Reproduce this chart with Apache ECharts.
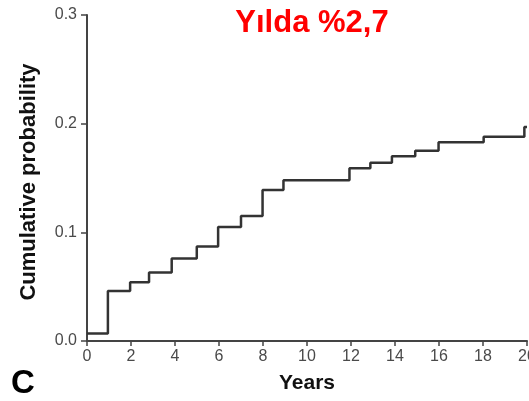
<!DOCTYPE html>
<html>
<head>
<meta charset="utf-8">
<style>
  html, body { margin: 0; padding: 0; background: #fff; }
  #chart { width: 529px; height: 401px; }
</style>
<script src="https://cdn.jsdelivr.net/npm/echarts@6/dist/echarts.min.js"></script>
</head>
<body>
<div id="chart"></div>
<script>
// Step start times (years) and cumulative probability held from each time
const stepYears = [0, 0.95, 1.96, 2.82, 3.85, 4.99, 5.96, 7.0, 7.98, 8.93, 11.93, 12.88, 13.86, 14.92, 15.98, 18.03, 19.88, 20];
const cumProb   = [0.007, 0.046, 0.054, 0.063, 0.076, 0.087, 0.105, 0.115, 0.139, 0.148, 0.159, 0.164, 0.170, 0.175, 0.183, 0.188, 0.197, 0.197];
const xTicks = [0, 2, 4, 6, 8, 10, 12, 14, 16, 18, 20];
const yTicks = [0.0, 0.1, 0.2, 0.3];
const titleText = 'Yılda %2,7';
const xName = 'Years';
const yName = 'Cumulative probability';
const panelLabel = 'C';

const chart = echarts.init(document.getElementById('chart'), null, { renderer: 'canvas' });
const axisColor = '#444';
const font = 'Liberation Sans, Arial, Helvetica, sans-serif';

chart.setOption({
  animation: false,
  backgroundColor: '#fff',
  title: [{
    text: titleText,
    left: 307, top: 3, textAlign: 'center',
    textStyle: { color: '#ff0000', fontSize: 31, fontWeight: 'bold', fontFamily: font }
  }, {
    text: panelLabel,
    left: 6, top: 362,
    textStyle: { color: '#000', fontSize: 33, fontWeight: 'bold', fontFamily: font }
  }],
  graphic: [{
    type: 'text',
    x: 29, y: 182,
    rotation: Math.PI / 2,
    style: {
      text: yName, fill: '#111', fontSize: 22, fontWeight: 'bold', fontFamily: font,
      align: 'center', verticalAlign: 'middle'
    }
  }],
  grid: { left: 87, right: 2, top: 15, bottom: 60, containLabel: false, outerBoundsMode: 'none' },
  xAxis: {
    type: 'value',
    min: xTicks[0], max: xTicks[xTicks.length - 1], interval: 2,
    name: xName, nameLocation: 'middle', nameGap: 32,
    nameTextStyle: { color: '#111', fontSize: 21, fontWeight: 'bold', fontFamily: font },
    axisLine: { show: true, onZero: false, lineStyle: { color: axisColor, width: 2 } },
    axisTick: { show: true, length: 5, lineStyle: { color: axisColor, width: 1.5 } },
    axisLabel: { color: '#4a4a4a', fontSize: 16, margin: 8, fontFamily: font,
      formatter: v => xTicks.includes(v) ? String(v) : '' },
    splitLine: { show: false }
  },
  yAxis: {
    type: 'value',
    min: yTicks[0], max: yTicks[yTicks.length - 1], interval: 0.1,
    axisLine: { show: true, lineStyle: { color: axisColor, width: 2 } },
    axisTick: { show: true, length: 6, lineStyle: { color: axisColor, width: 1.5 } },
    axisLabel: { color: '#4a4a4a', fontSize: 16, margin: 10, fontFamily: font,
      formatter: v => v.toFixed(1) },
    splitLine: { show: false }
  },
  series: [{
    type: 'line',
    step: 'end',
    data: stepYears.map((x, i) => [x, cumProb[i]]),
    symbol: 'none',
    lineStyle: { color: '#333', width: 2.5 },
    clip: false
  }]
});
</script>
</body>
</html>
